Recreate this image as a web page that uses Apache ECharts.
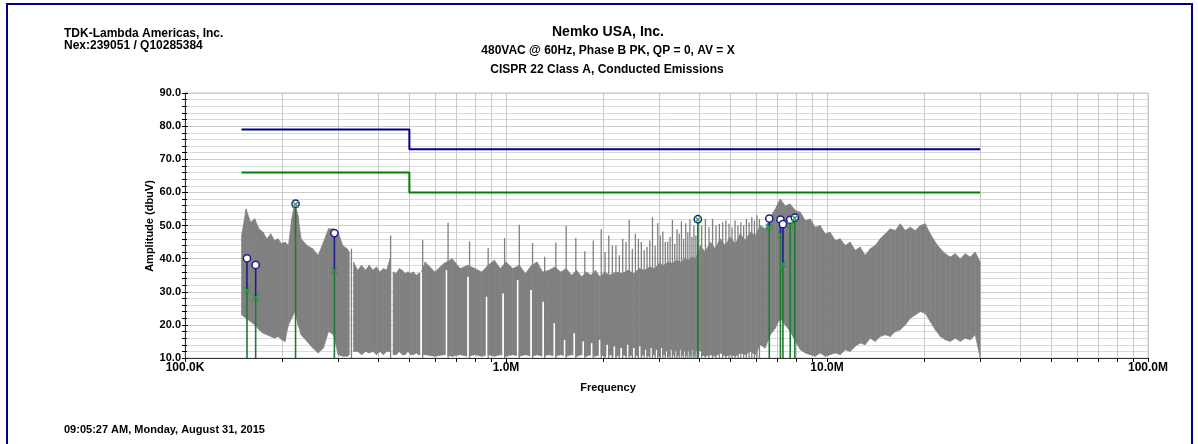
<!DOCTYPE html>
<html>
<head>
<meta charset="utf-8">
<script src="https://cdn.jsdelivr.net/npm/echarts@6/dist/echarts.min.js"></script>
<style>
  html, body { margin: 0; padding: 0; background: #fff; }
  #emi { width: 1198px; height: 444px; }
</style>
</head>
<body>
<div id="emi"></div>
<script>
// limit lines (MHz, dBuV)
var limitFreq = [0.15, 0.5, 0.5, 30];
var qpLimit = [79, 79, 73, 73];
var avLimit = [66, 66, 60, 60];

// peak trace envelope (MHz, low dBuV, high dBuV), null = gap
var traceFreq = [
  0.150, 0.155, 0.160, 0.165, 0.170, 0.175, 0.180, 0.185, 0.190, 0.195, 0.200, 0.205,
  0.210, 0.215, 0.220, 0.225, 0.230, 0.240, 0.250, 0.260, 0.270, 0.280, 0.290, 0.300, 0.310, 0.320, 0.325,
  0.330,
  0.335, 0.345, 0.355, 0.365, 0.375, 0.385, 0.395, 0.405, 0.415, 0.425, 0.435,
  0.440,
  0.445, 0.455, 0.465, 0.475, 0.485, 0.495, 0.505, 0.515, 0.525, 0.535, 0.545,
  0.56, 0.60, 0.64, 0.68, 0.72, 0.76, 0.80, 0.84, 0.88, 0.92, 0.96, 1.00, 1.05, 1.10, 1.15, 1.20,
  1.25, 1.30, 1.36, 1.42, 1.48, 1.54, 1.60, 1.66, 1.72, 1.78, 1.84, 1.90, 1.96, 2.03, 2.10,
  2.20, 2.30, 2.40, 2.50, 2.60, 2.70, 2.80, 2.90, 3.00, 3.10, 3.20, 3.30, 3.40, 3.50, 3.60, 3.70, 3.80, 3.90,
  4.03, 4.17, 4.33, 4.48, 4.65, 4.82, 4.99, 5.18, 5.37, 5.56, 5.77, 5.98, 6.19, 6.42, 6.66, 6.90,
  7.15, 7.41, 7.68, 7.97, 8.26, 8.56, 8.87, 9.19, 9.52, 9.87, 10.23, 10.61, 10.99, 11.40, 11.81,
  12.24, 12.69, 13.15, 13.63, 14.13, 14.65, 15.19, 15.74, 16.32, 16.91, 17.53, 18.17, 18.84, 19.52,
  20.23, 20.97, 21.74, 22.54, 23.36, 24.21, 25.10, 26.02, 26.96, 27.95, 28.96, 30.0
];
var traceLow = [
  23, 22, 21, 20, 18.5, 17.5, 17, 16.5, 16, 16.5, 15.5, 15,
  20, 22, 24, 20, 17, 15, 13, 11.5, 13, 18, 17, 11, 10.5, 10.5, 11,
  null,
  12, 12, 11, 12, 11.5, 12, 11, 12, 11, 12, 12,
  null,
  11, 11, 12, 11, 11, 12, 11, 11, 11.5, 11, 11,
  11, 10.5, 11, 10.5, 11, 10.5, 11, 10.5, 11, 10.5, 11, 10.5, 11, 10.5, 11, 10.5,
  11, 10.5, 11, 10.5, 11, 10.5, 11, 10.5, 11, 10.5, 11, 10.5, 11, 10.5, 11,
  10.5, 11, 10.5, 11, 10.5, 11, 10.5, 11, 10.5, 11, 10.5, 11, 10.5, 11, 10.5, 11, 10.5, 11,
  11, 10.5, 11, 10.5, 11.5, 10.5, 11, 10.5, 11.5, 11, 12, 11, 14, 13, 17, 19,
  22, 20, 18, 15, 12.5, 11.5, 11, 10.5, 11.5, 10.5, 11, 11.5, 11, 12.5, 12,
  13.5, 14.5, 14, 16, 15, 16.5, 17, 16.5, 18, 18.5, 20, 22, 23, 24,
  23.5, 21, 18.5, 16.5, 15.5, 15, 16, 15, 16, 15.5, 17, 10
];
var traceHigh = [
  47, 55, 51, 52, 49, 48, 46, 47.5, 45.5, 46, 44.5, 45,
  44, 52, 57, 53, 46, 44, 43, 41, 45, 49, 49, 48, 44, 43, 42,
  null,
  39, 36.5, 38, 36.5, 38, 36.5, 37.5, 36, 37, 36.5, 40,
  null,
  36, 35.5, 37, 36.5, 35.5, 36, 35.5, 36, 35, 35.5, 36,
  39, 36, 38.5, 40, 37, 38, 37, 36, 38, 39.5, 37, 39, 37, 38, 35.5, 38,
  39, 36, 36.5, 37.5, 36, 37, 35, 36.5, 34.5, 36, 35, 36.5, 34.5, 36, 35,
  36, 35.5, 36.5, 35.5, 37, 36.5, 37.5, 37, 38.5, 38, 39, 38.5, 39.5, 39, 40, 39.5, 40.5, 40,
  44, 42, 45, 43, 46, 44, 46.5, 44.5, 47.5, 45.5, 48, 47, 50, 49, 52.5, 55,
  58, 56, 56.5, 54.5, 54, 51.5, 52, 49.5, 50, 47.5, 48, 45.5, 46, 44, 45,
  42.5, 43.5, 41, 43, 44, 46, 47.5, 49, 48.5, 50.5, 48.5, 49.5, 48.5, 50,
  50.5, 47.5, 45, 43, 41.5, 40.5, 41.5, 40, 41.5, 40.5, 42, 39
];

// harmonic spikes (MHz, top dBuV, top of white notch below it)
var combFreq = [
  0.33, 0.437, 0.55, 0.66, 0.77, 0.88, 0.99, 1.10, 1.21, 1.32, 1.43, 1.54, 1.65, 1.76, 1.87, 1.98,
  2.09, 2.20, 2.31, 2.42, 2.53, 2.64, 2.75, 2.86, 2.97, 3.08, 3.19, 3.30, 3.41, 3.52, 3.63, 3.74,
  3.85, 3.96, 4.07, 4.18, 4.29, 4.40, 4.51, 4.62, 4.73, 4.84, 4.95, 5.06, 5.17, 5.28, 5.39, 5.50,
  5.61, 5.72, 5.83, 5.94, 6.05, 6.16,
  2.035, 2.145, 2.255, 2.365, 2.475, 2.585, 2.695, 2.805, 2.915, 3.025, 3.135, 3.245, 3.355,
  3.465, 3.575, 3.685, 3.795, 3.905
];
var combTop = [
  43, 47, 45.7, 50.8, 45.2, 43.2, 46.2, 50.2, 44.7, 40.6, 44.9, 49.9, 46.2, 42.2, 45.5, 48.9,
  47, 44, 46, 51.7, 47.5, 45, 43.5, 52.5, 50.7, 48.2, 45.2, 51.7, 48.9, 51.2, 50.7, 51.7,
  50, 51.9, 50, 52, 49.5, 52, 50, 50.5, 51, 51.5, 50.5, 49.5, 51.5, 50, 51, 50,
  52, 51, 52.5, 51.5, 53, 52,
  42, 44, 41, 45, 43, 46, 42.5, 45.5, 44, 47, 45, 46.5, 44.5,
  47.5, 46, 48, 46.5, 47
];
var combNotch = [
  null, null, 36, 36.5, 34.5, 28.5, 29.5, 33.5, 30.5, 27, 20.5, 15.5, 17.5, 15, 14.5, 15.5,
  14, 13.5, 13, 14, 13, 13.5, 12.5, 13, 12.5, 13, 12, 12.5, 12, 12.5, 12, 12,
  12.5, 12, 12, null, null, null, null, null, null, null, null, null, null, null, null, null,
  null, null, null, null, null, null,
  null, null, null, null, null, null, null, null, null, null, null, null, null,
  null, null, null, null, null
];

// measured peaks (MHz, QP dBuV, AV dBuV)
var markerFreq = [0.156, 0.166, 0.221, 0.292, 3.96, 6.61, 7.16, 7.29, 7.68, 7.94];
var markerQP = [40.1, 38.1, 56.6, 47.7, 51.9, 52.1, 51.8, 50.4, 51.7, 52.4];
var markerAV = [30.5, 28.3, 56.4, 36.4, 51.8, 49.5, 47.2, 38.3, 50.1, 52.2];

// minor log grid lines
var gridFreq = [0.2, 0.3, 0.4, 0.5, 0.6, 0.7, 0.8, 0.9, 2, 3, 4, 5, 6, 7, 8, 9,
  20, 30, 40, 50, 60, 70, 80, 90];
var xTickLabels = { 0.1: '100.0K', 1: '1.0M', 10: '10.0M', 100: '100.0M' };

var FONT = '"Liberation Sans", Arial, sans-serif';
var GRAY = '#808080';

var segs = [];
for (var i = 0; i < traceFreq.length - 1; i++) {
  if (traceLow[i] == null || traceLow[i + 1] == null) continue;
  segs.push([traceFreq[i], traceLow[i], traceHigh[i], traceFreq[i + 1], traceLow[i + 1], traceHigh[i + 1]]);
}
var combData = combFreq.map(function (f, i) { return [f, combTop[i]]; });
var markerData = markerFreq.map(function (f, i) { return [f, markerAV[i], markerQP[i]]; });
var gridData = gridFreq.map(function (f) { return [f, 90]; });

function txt(x, y, s, size, align) {
  return { type: 'text', x: x, y: y, style: { text: s, font: 'bold ' + size + 'px ' + FONT, fill: '#000',
    textAlign: align || 'left', textVerticalAlign: 'middle' } };
}

var option = {
  animation: false,
  grid: {
    left: 185, right: 50, top: 93, bottom: 86,
    show: true, borderColor: '#c8c8c8', borderWidth: 1
  },
  xAxis: {
    type: 'log', logBase: 10, min: 0.1, max: 100,
    axisLine: { lineStyle: { color: '#333', width: 1 } },
    axisTick: { show: true, length: 4, lineStyle: { color: '#000' } },
    axisLabel: {
      fontFamily: FONT, fontWeight: 'bold', fontSize: 12, color: '#000', margin: 4,
      formatter: function (v) { return xTickLabels[v] || ''; }
    },
    splitLine: { show: true, lineStyle: { color: '#c8c8c8', width: 1 } }
  },
  yAxis: [{
    type: 'value', min: 10, max: 90, interval: 10,
    axisLine: { show: true, lineStyle: { color: '#333', width: 1 } },
    axisTick: { show: true, length: 3, lineStyle: { color: '#000' } },
    minorTick: { show: true, splitNumber: 5, length: 3, lineStyle: { color: '#000' } },
    axisLabel: {
      fontFamily: FONT, fontWeight: 'bold', fontSize: 11, color: '#000', margin: 4,
      formatter: function (v) { return v.toFixed(1); }
    },
    splitLine: { show: true, lineStyle: { color: '#cccccc', width: 1 } },
    minorSplitLine: { show: true, lineStyle: { color: '#dadada', width: 1 } }
  }, {
    type: 'value', min: 10, max: 90, interval: 10, position: 'left',
    axisLine: { show: false },
    axisTick: { show: true, inside: true, length: 3, lineStyle: { color: '#000' } },
    minorTick: { show: true, splitNumber: 5, length: 2, lineStyle: { color: '#000' } },
    axisLabel: { show: false },
    splitLine: { show: false }
  }],
  graphic: [
    { type: 'rect', shape: { x: 7, y: 4, width: 1185, height: 480 },
      style: { fill: 'none', stroke: '#00008b', lineWidth: 2 }, z: 100 },
    txt(64, 34, 'TDK-Lambda Americas, Inc.', 12),
    txt(64, 46, 'Nex:239051 / Q10285384', 12),
    txt(608, 32, 'Nemko USA, Inc.', 14, 'center'),
    txt(608, 51, '480VAC @ 60Hz, Phase B PK, QP = 0, AV = X', 12, 'center'),
    txt(607, 70, 'CISPR 22 Class A, Conducted Emissions', 12, 'center'),
    txt(608, 388, 'Frequency', 11, 'center'),
    txt(64, 430, '09:05:27 AM, Monday, August 31, 2015', 11),
    { type: 'text', x: 150, y: 226, rotation: Math.PI / 2,
      style: { text: 'Amplitude (dbuV)', font: 'bold 11px ' + FONT, fill: '#000',
        textAlign: 'center', textVerticalAlign: 'middle' } }
  ],
  series: [
    {
      // minor vertical grid lines and their bottom ticks
      type: 'custom', silent: true, z: 1, clip: false,
      data: gridData,
      encode: { x: 0, y: 1 },
      renderItem: function (params, api) {
        var top = api.coord([api.value(0), 90]);
        var bot = api.coord([api.value(0), 10]);
        var x = Math.round(top[0]) + 0.5;
        return { type: 'group', children: [
          { type: 'line', shape: { x1: x, y1: top[1], x2: x, y2: bot[1] }, style: { stroke: '#c8c8c8', lineWidth: 1 } },
          { type: 'line', shape: { x1: x, y1: bot[1], x2: x, y2: bot[1] + 4 }, style: { stroke: '#000', lineWidth: 1 } }
        ] };
      }
    },
    {
      // peak detector trace
      type: 'custom', silent: true, z: 2,
      data: segs,
      encode: { x: [0, 3], y: [1, 2, 4, 5] },
      renderItem: function (params, api) {
        var a = api.coord([api.value(0), api.value(2)]);
        var b = api.coord([api.value(3), api.value(5)]);
        var c = api.coord([api.value(3), api.value(4)]);
        var d = api.coord([api.value(0), api.value(1)]);
        return { type: 'polygon', shape: { points: [a, b, c, d] },
          style: { fill: GRAY, stroke: GRAY, lineWidth: 0.6 } };
      }
    },
    {
      // harmonic spikes with their white notches
      type: 'custom', silent: true, z: 3,
      data: combData,
      encode: { x: 0, y: 1 },
      renderItem: function (params, api) {
        var f = api.value(0);
        var p = api.coord([f, api.value(1)]);
        var b = api.coord([f, 10]);
        var children = [];
        var notch = combNotch[params.dataIndex];
        if (notch != null) {
          var n = api.coord([f, notch]);
          children.push({ type: 'rect', shape: { x: p[0] - 2.4, y: n[1], width: 1.8, height: b[1] - n[1] - 0.5 },
            style: { fill: '#ffffff' } });
        }
        children.push({ type: 'line', shape: { x1: p[0], y1: b[1], x2: p[0], y2: p[1] },
          style: { stroke: GRAY, lineWidth: 1.3 } });
        return { type: 'group', children: children };
      }
    },
    {
      name: 'QP limit', type: 'line', z: 5, symbol: 'none', silent: true,
      data: limitFreq.map(function (f, i) { return [f, qpLimit[i]]; }),
      lineStyle: { color: '#00008b', width: 2 }
    },
    {
      name: 'AV limit', type: 'line', z: 5, symbol: 'none', silent: true,
      data: limitFreq.map(function (f, i) { return [f, avLimit[i]]; }),
      lineStyle: { color: '#008000', width: 2 }
    },
    {
      // QP / AV peak markers
      type: 'custom', silent: true, z: 6,
      data: markerData,
      encode: { x: 0, y: [1, 2] },
      renderItem: function (params, api) {
        var f = api.value(0);
        var b = api.coord([f, 10]);
        var a = api.coord([f, api.value(1)]);
        var q = api.coord([f, api.value(2)]);
        var s = 3.2;
        return { type: 'group', children: [
          { type: 'line', shape: { x1: a[0], y1: b[1], x2: a[0], y2: a[1] }, style: { stroke: '#1d7a35', lineWidth: 1.6 } },
          { type: 'line', shape: { x1: a[0], y1: a[1], x2: q[0], y2: q[1] }, style: { stroke: '#1c1c90', lineWidth: 1.6 } },
          { type: 'circle', shape: { cx: q[0], cy: q[1], r: 3.6 }, style: { fill: '#fff', stroke: '#1c1c90', lineWidth: 1.5 } },
          { type: 'line', shape: { x1: a[0] - s, y1: a[1] - s, x2: a[0] + s, y2: a[1] + s }, style: { stroke: '#2a9a3a', lineWidth: 1.3 } },
          { type: 'line', shape: { x1: a[0] - s, y1: a[1] + s, x2: a[0] + s, y2: a[1] - s }, style: { stroke: '#2a9a3a', lineWidth: 1.3 } }
        ] };
      }
    }
  ]
};

var chart = echarts.init(document.getElementById('emi'));
chart.setOption(option);
</script>
</body>
</html>
